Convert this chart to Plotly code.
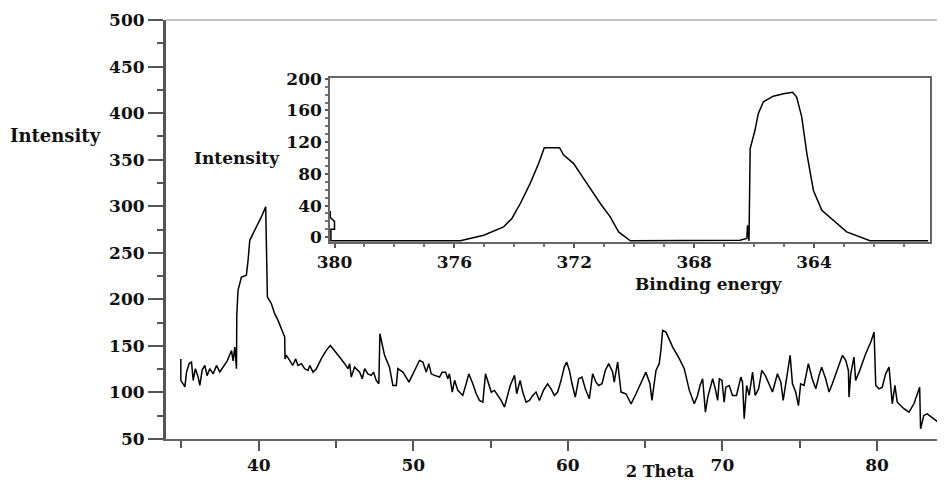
import plotly.graph_objects as go

# ---- main XRD pattern (2 Theta vs Intensity) ----
theta = [34.96, 34.96, 35.22, 35.33, 35.5, 35.65, 35.76, 35.9, 36.08, 36.19, 36.34, 36.51, 36.66, 36.83,
         37.05, 37.27, 37.48, 37.7, 37.96, 38.24, 38.34, 38.45, 38.56, 38.58, 38.66, 38.88, 39.2, 39.31,
         39.42, 39.63, 39.85, 39.96, 40.17, 40.45, 40.5, 40.56, 40.82, 41.03, 41.25, 41.46, 41.68, 41.7,
         41.79, 42.0, 42.2, 42.39, 42.54, 42.76, 42.97, 43.19, 43.3, 43.51, 43.73, 44.05, 44.37, 44.63,
         44.91, 45.23, 45.56, 45.77, 45.88, 45.99, 46.2, 46.53, 46.7, 46.85, 47.06, 47.28, 47.43, 47.6,
         47.77, 47.84, 48.14, 48.46, 48.68, 48.9, 49.0, 49.33, 49.72, 50.08, 50.4, 50.62, 50.84, 51.0,
         51.16, 51.37, 51.7, 51.87, 52.09, 52.23, 52.34, 52.52, 52.67, 52.88, 53.2, 53.42, 53.59, 53.85,
         54.07, 54.28, 54.5, 54.67, 54.82, 55.04, 55.25, 55.46, 55.68, 55.9, 56.11, 56.27, 56.55, 56.69,
         56.91, 57.08, 57.3, 57.51, 57.73, 57.94, 58.16, 58.42, 58.69, 58.91, 59.13, 59.34, 59.56, 59.77,
         59.92, 60.1, 60.27, 60.48, 60.7, 60.91, 61.13, 61.39, 61.6, 61.82, 61.99, 62.21, 62.42, 62.64,
         62.9, 63.0, 63.22, 63.44, 63.76, 64.09, 64.41, 64.73, 65.05, 65.31, 65.44, 65.7, 65.91, 66.02,
         66.13, 66.35, 66.78, 67.21, 67.53, 67.86, 68.18, 68.39, 68.55, 68.72, 68.9, 69.05, 69.2, 69.37,
         69.54, 69.69, 69.8, 69.97, 70.11, 70.22, 70.44, 70.65, 70.91, 71.19, 71.3, 71.41, 71.57, 71.73,
         71.95, 72.12, 72.34, 72.55, 72.77, 73.03, 73.24, 73.56, 73.78, 73.93, 74.2, 74.38, 74.53, 74.74,
         74.92, 75.06, 75.28, 75.56, 75.81, 76.04, 76.25, 76.42, 76.68, 76.9, 77.11, 77.44, 77.76, 77.98,
         78.15, 78.19, 78.3, 78.51, 78.62, 78.84, 79.27, 79.6, 79.81, 79.92, 80.13, 80.34, 80.56, 80.78,
         80.88, 80.99, 81.16, 81.31, 81.53, 81.74, 82.07, 82.39, 82.76, 82.82, 83.03, 83.25, 83.68, 84.22,
         84.35]
intensity = [136, 113, 106, 122, 131, 132.6, 113, 125.5, 116.5, 107.5, 124, 129, 118, 125.5,
             120, 129, 122, 127, 134, 145, 134, 148.7, 125.5, 183, 209.7, 224, 226, 242,
             263.4, 270.6, 277.7, 283, 288.5, 299.3, 251, 202.5, 195.3, 184.6, 177.4, 168.5, 159.5, 136,
             139.8, 134.4, 129, 136, 129, 130.9, 125.5, 123.6, 129, 121.8, 125.5, 136.3, 145.2, 150.5,
             145.2, 138, 130.9, 125.5, 130.9, 116.5, 127.2, 121.8, 114.7, 125.5, 120, 118.3, 121.8, 112.9,
             109.3, 163, 139.8, 127.2, 107.5, 107.5, 125.5, 121.8, 111, 123.6, 134.4, 132.6, 121.8, 130.9,
             120, 118.3, 116.5, 121.8, 121.8, 114.7, 120, 100.4, 113, 102.2, 96.8, 109.3, 120, 109.3,
             98.6, 91.4, 89.6, 120, 113, 100.4, 102.2, 96.8, 91.4, 84.2, 96.8, 107.5, 118.3, 98.6,
             113, 100.4, 89.6, 91.4, 96.8, 100.4, 91.4, 102.2, 109.3, 103.9, 96.8, 100.4, 113, 127.2,
             132.6, 123.6, 109.3, 95, 114.7, 116.5, 103.9, 93.2, 120, 111, 107.5, 109.3, 123.6, 130.9,
             121.8, 111, 132.6, 100.4, 98.6, 87.8, 98.6, 109.3, 121.8, 109.3, 91.4, 123.6, 130.9, 145.2,
             166.7, 164.8, 148.7, 136.3, 125.5, 102.2, 87.8, 96.8, 107.5, 114.7, 78.8, 95, 103.9, 114.7,
             103.9, 91.4, 114.7, 112.9, 89.6, 105.7, 107.5, 96.8, 96.8, 116.5, 111, 71.7, 107.5, 96.8,
             121.8, 96.8, 103.9, 123.6, 118.3, 107.5, 100.4, 120, 111, 91.4, 118.3, 139.8, 109.3, 100.4,
             86, 109.3, 107.5, 130.9, 114.7, 103.9, 118.3, 127.2, 114.7, 100.4, 109.3, 125.5, 139.8, 134.4,
             123.6, 95, 120, 138, 113, 121.8, 141.6, 154.1, 164.8, 107.5, 103.9, 105.7, 120, 127.2,
             109.3, 87.8, 107.5, 89.6, 86, 82.5, 78.8, 87.8, 105.7, 60.9, 75.3, 77, 71.7, 64.5,
             63]

# ---- inset XPS spectrum (Binding energy vs Intensity) ----
binding_energy = [380.14, 380.14, 380.0, 380.0, 380.12, 380.12, 378.0, 375.8, 375.02, 374.36, 374.08,
                  373.8, 373.47, 373.19, 373.0, 372.49, 372.36, 372.02, 371.58, 371.13, 370.8, 370.52,
                  370.13, 368.0, 366.69, 366.47, 366.24, 366.22, 366.17, 366.13, 365.97, 365.86, 365.69,
                  365.36, 365.02, 364.71, 364.58, 364.41, 364.24, 364.02, 363.74, 363.36, 362.91,
                  362.13, 360.19]
xps_counts = [33, 25, 20, 10, 10, -4.5, -4.5, -4.5, 2.5, 13, 23.7,
              42.6, 68, 93, 113, 113, 104, 93, 68, 42.6, 25.7, 6.7,
              -4.5, -4.5, -4.5, -3.8, -1.6, 15, -4.5, 112, 135, 156, 171,
              178, 181, 183, 177, 152, 106, 59, 34, 21.5, 6.7,
              -4.5, -4.5]

main_x_ticks_dtick = 10
main_y_ticks_dtick = 50
inset_x_ticks = [380, 376, 372, 368, 364]
inset_y_ticks = [0, 40, 80, 120, 160, 200]

FONT = "DejaVu Serif"
tickfont = dict(family=FONT, size=17, color="#111", weight="bold")

fig = go.Figure()
fig.add_trace(go.Scatter(x=theta, y=intensity, mode="lines",
                         line=dict(color="black", width=1.5), showlegend=False,
                         xaxis="x", yaxis="y"))
fig.add_trace(go.Scatter(x=binding_energy, y=xps_counts, mode="lines",
                         line=dict(color="black", width=1.5), showlegend=False,
                         xaxis="x2", yaxis="y2"))

# the page body adds an 8px offset; work in page pixels and convert
OFF = 8
PAGE_W, PAGE_H = 945, 482
W, H = PAGE_W - OFF, PAGE_H - OFF
L, R, T, B = 166 - OFF, 0, 20 - OFF, PAGE_H - 439
pw, ph = W - L - R, H - T - B

def px_x(p):
    return (p - OFF - L) / pw

def px_y(p):
    return (H - B - (p - OFF)) / ph

fig.update_layout(
    width=W, height=H,
    margin=dict(l=L, r=R, t=T, b=B),
    plot_bgcolor="white", paper_bgcolor="white",
    xaxis=dict(range=[34, 84.4], dtick=main_x_ticks_dtick, tick0=0, ticks="outside",
               ticklen=10, tickwidth=2, tickcolor="#555", showline=True, linecolor="#666",
               linewidth=2, showgrid=False, zeroline=False, tickfont=tickfont,
               minor=dict(dtick=5, tick0=0, ticks="outside", ticklen=7, tickwidth=2,
                          tickcolor="#555", showgrid=False),
               domain=[0, 1], anchor="y"),
    yaxis=dict(range=[50, 500], dtick=main_y_ticks_dtick, tick0=0, ticks="outside",
               ticklen=15, tickwidth=2, tickcolor="#555", showline=True, linecolor="#555",
               linewidth=3, showgrid=False, zeroline=False, tickfont=tickfont,
               minor=dict(dtick=25, tick0=0, ticks="outside", ticklen=6, tickwidth=2,
                          tickcolor="#555", showgrid=False),
               domain=[0, 1], anchor="x"),
    xaxis2=dict(range=[380.15, 360.13], tickvals=inset_x_ticks, ticks="outside",
                ticklen=4, tickwidth=1.5, tickcolor="#555", showline=True, mirror=True,
                linecolor="#666", linewidth=1.5, showgrid=False, zeroline=False,
                tickfont=tickfont,
                minor=dict(dtick=1, tick0=0, ticks="outside", ticklen=3, tickcolor="#777",
                           showgrid=False),
                domain=[px_x(330), px_x(930)], anchor="y2"),
    yaxis2=dict(range=[-6, 201], tickvals=inset_y_ticks, ticks="outside",
                ticklen=3, tickwidth=1.5, tickcolor="#555", showline=True, mirror=True,
                linecolor="#666", linewidth=1.5, showgrid=False, zeroline=False,
                tickfont=tickfont, ticklabelstandoff=0,
                minor=dict(dtick=10, tick0=0, ticks="outside", ticklen=3, tickcolor="#777",
                           showgrid=False),
                domain=[px_y(242), px_y(78)], anchor="x2"),
    shapes=[dict(type="line", xref="paper", yref="paper", x0=0, x1=1, y0=1, y1=1,
                 line=dict(color="#888", width=1))],
    annotations=[
        dict(text="Intensity", xref="paper", yref="paper", x=px_x(8), y=px_y(135),
             xanchor="left", yanchor="middle", showarrow=False,
             font=dict(family=FONT, size=18, color="#111", weight="bold")),
        dict(text="Intensity", xref="paper", yref="paper", x=px_x(192), y=px_y(158),
             xanchor="left", yanchor="middle", showarrow=False,
             font=dict(family=FONT, size=17, color="#111", weight="bold")),
        dict(text="Binding energy", xref="paper", yref="paper", x=px_x(709), y=px_y(284),
             xanchor="center", yanchor="middle", showarrow=False,
             font=dict(family=FONT, size=17, color="#111", weight="bold")),
        dict(text="2 Theta", xref="paper", yref="paper", x=px_x(660), y=px_y(471),
             xanchor="center", yanchor="middle", showarrow=False,
             font=dict(family=FONT, size=16, color="#111", weight="bold")),
    ],
)

fig.write_html("out.html")
